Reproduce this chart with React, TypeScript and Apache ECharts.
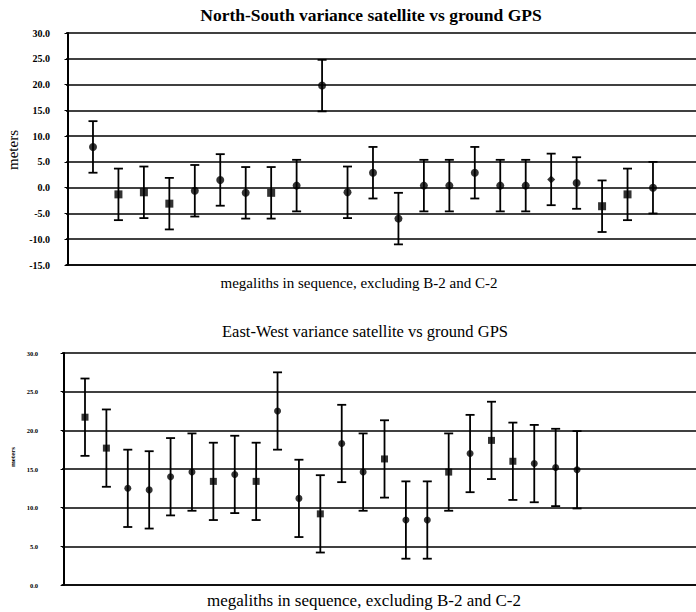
import React, { useEffect, useRef } from "react";
import * as echarts from "echarts";

// ---------- data ----------
const nsIndex = [1, 2, 3, 4, 5, 6, 7, 8, 9, 10, 11, 12, 13, 14, 15, 16, 17, 18, 19, 20, 21, 22, 23];
const nsValues = [7.9, -1.3, -0.9, -3.1, -0.6, 1.5, -1.0, -1.0, 0.4, 19.8, -0.9, 2.9, -6.0, 0.4, 0.4, 2.9, 0.4, 0.4, 1.6, 0.9, -3.6, -1.3, 0.0];
const nsErrors = [5, 5, 5, 5, 5, 5, 5, 5, 5, 5, 5, 5, 5, 5, 5, 5, 5, 5, 5, 5, 5, 5, 5];

const ewIndex = [1, 2, 3, 4, 5, 6, 7, 8, 9, 10, 11, 12, 13, 14, 15, 16, 17, 18, 19, 20, 21, 22, 23, 24];
const ewValues = [21.7, 17.7, 12.5, 12.3, 14.0, 14.6, 13.4, 14.3, 13.4, 22.5, 11.2, 9.2, 18.3, 14.6, 16.3, 8.4, 8.4, 14.6, 17.0, 18.7, 16.0, 15.7, 15.2, 14.9];
const ewErrors = [5, 5, 5, 5, 5, 5, 5, 5, 5, 5, 5, 5, 5, 5, 5, 5, 5, 5, 5, 5, 5, 5, 5, 5];

const nsTicks = { min: -15, max: 30, step: 5 };
const ewTicks = { min: 0, max: 30, step: 5 };

const nsTitle = "North-South variance satellite vs ground GPS";
const ewTitle = "East-West variance satellite vs ground GPS";
const xName = "megaliths in sequence, excluding B-2 and C-2";
const yName = "meters";

// marker shapes as seen in the scan (style only)
const nsShapes = ["circle", "rect", "rect", "rect", "circle", "circle", "circle", "rect", "circle", "circle", "circle", "circle", "circle", "circle", "circle", "circle", "circle", "circle", "diamond", "circle", "rect", "rect", "circle"];
const ewShapes = ["rect", "rect", "circle", "circle", "circle", "circle", "rect", "circle", "rect", "circle", "circle", "rect", "circle", "circle", "rect", "circle", "circle", "rect", "circle", "rect", "rect", "circle", "circle", "circle"];

const SERIF = '"Liberation Serif", "Times New Roman", serif';

function errorBars(xAxisIndex: number, yAxisIndex: number, idx: number[], vals: number[], errs: number[]) {
  return {
    type: "custom",
    xAxisIndex,
    yAxisIndex,
    data: idx.map((x, i) => [x, vals[i] - errs[i], vals[i] + errs[i]]),
    encode: { x: 0, y: [1, 2] },
    z: 4,
    silent: true,
    renderItem: (_params: any, api: any) => {
      const x = api.value(0);
      const lo = api.coord([x, api.value(1)]);
      const hi = api.coord([x, api.value(2)]);
      const hw = 4.5;
      const style = { stroke: "#000", lineWidth: 1.8, fill: "none" };
      return {
        type: "group",
        children: [
          { type: "line", shape: { x1: lo[0], y1: lo[1], x2: hi[0], y2: hi[1] }, style },
          { type: "line", shape: { x1: lo[0] - hw, y1: lo[1], x2: lo[0] + hw, y2: lo[1] }, style },
          { type: "line", shape: { x1: hi[0] - hw, y1: hi[1], x2: hi[0] + hw, y2: hi[1] }, style },
        ],
      };
    },
  };
}

function markers(xAxisIndex: number, yAxisIndex: number, idx: number[], vals: number[], shapes: string[], size: number) {
  return {
    type: "scatter",
    xAxisIndex,
    yAxisIndex,
    z: 5,
    symbolSize: size,
    itemStyle: { color: "#000" },
    data: idx.map((x, i) => ({ value: [x, vals[i]], symbol: shapes[i] })),
  };
}

export default function App() {
  const ref = useRef<HTMLDivElement>(null);
  useEffect(() => {
    document.body.style.margin = "0";
    if (!ref.current) return;
    const chart = echarts.init(ref.current, null, { renderer: "svg" });
    const yAxisBase = (t: { min: number; max: number; step: number }, fontSize: number, margin: number) => ({
      type: "value",
      min: t.min,
      max: t.max,
      interval: t.step,
      axisLine: { show: true, lineStyle: { color: "#000", width: 2 } },
      axisTick: { show: true, length: 3, lineStyle: { color: "#000", width: 1 } },
      axisLabel: {
        fontFamily: SERIF,
        fontWeight: "bold",
        fontSize,
        color: "#000",
        margin,
        formatter: (v: number) => v.toFixed(1),
      },
      splitLine: { show: true, lineStyle: { color: "#000", width: 1.6 } },
    });
    const xAxisBase = (min: number, max: number) => ({
      type: "value",
      min,
      max,
      axisLine: { show: true, onZero: false, lineStyle: { color: "#000", width: 1.6 } },
      axisTick: { show: false },
      axisLabel: { show: false },
      splitLine: { show: false },
    });
    chart.setOption({
      animation: false,
      backgroundColor: "#fff",
      grid: [
        { left: 66, top: 33, width: 630, height: 232 },
        { left: 62, top: 353, width: 634, height: 232 },
      ],
      xAxis: [
        { ...xAxisBase(-0.06, 24.69), gridIndex: 0 },
        { ...xAxisBase(-0.075, 29.56), gridIndex: 1 },
      ],
      yAxis: [
        { ...yAxisBase(nsTicks, 10, 16), gridIndex: 0 },
        { ...yAxisBase(ewTicks, 6.5, 24), gridIndex: 1 },
      ],
      series: [
        errorBars(0, 0, nsIndex, nsValues, nsErrors),
        markers(0, 0, nsIndex, nsValues, nsShapes, 8),
        errorBars(1, 1, ewIndex, ewValues, ewErrors),
        markers(1, 1, ewIndex, ewValues, ewShapes, 7),
      ],
      graphic: [
        { type: "text", x: 371, y: 15, style: { text: nsTitle, align: "center", verticalAlign: "middle", font: `bold 17.5px ${SERIF}`, fill: "#000" } },
        { type: "text", x: 359, y: 283, style: { text: xName, align: "center", verticalAlign: "middle", font: `15px ${SERIF}`, fill: "#000" } },
        { type: "text", x: 13, y: 150, rotation: Math.PI / 2, style: { text: yName, align: "center", verticalAlign: "middle", font: `15px ${SERIF}`, fill: "#000" } },
        { type: "text", x: 365, y: 331, style: { text: ewTitle, align: "center", verticalAlign: "middle", font: `16.5px ${SERIF}`, fill: "#000" } },
        { type: "text", x: 364, y: 600, style: { text: xName, align: "center", verticalAlign: "middle", font: `17px ${SERIF}`, fill: "#000" } },
        { type: "text", x: 12.5, y: 457, rotation: Math.PI / 2, style: { text: yName, align: "center", verticalAlign: "middle", font: `bold 7px ${SERIF}`, fill: "#000" } },
      ],
    });
    return () => chart.dispose();
  }, []);
  return <div ref={ref} style={{ width: 696, height: 612 }} />;
}
